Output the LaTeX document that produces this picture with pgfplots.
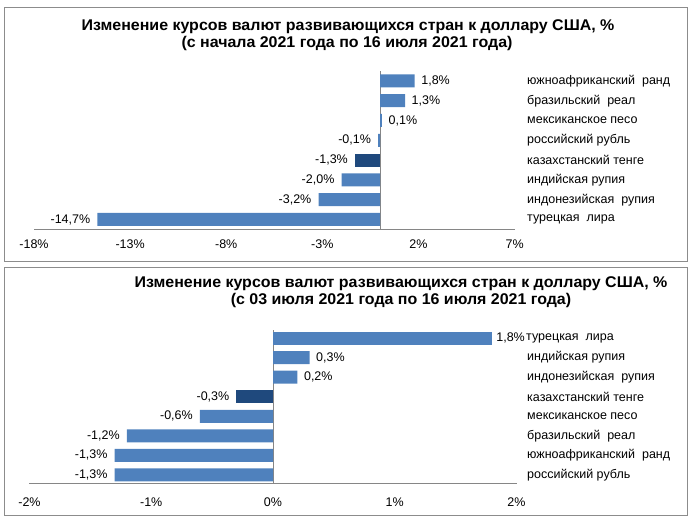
\documentclass[border=0pt]{standalone}
\usepackage{fontspec}
\setmainfont{Liberation Sans}
\newfontfamily\titlefont[FakeStretch=1.03]{Liberation Sans}
\usepackage{pgfplots}
\pgfplotsset{compat=1.18}
\definecolor{barblue}{HTML}{4F81BD}
\definecolor{bardark}{HTML}{1F497D}
\definecolor{axgray}{HTML}{868686}
\definecolor{framegray}{HTML}{8C8C8C}
\newcommand{\lblfont}{\fontsize{12.5}{14}\selectfont}
\newcommand{\ttlfont}{\titlefont\bfseries\fontsize{15.5}{18}\selectfont}
\pgfplotsset{
  mychart/.style={
    scale only axis,
    xbar, bar width=13pt, bar shift=0pt,
    enlargelimits=false,
    axis x line*=bottom, axis y line*=right,
    x axis line style={axgray, line width=0.8pt},
    y axis line style={draw=none},
    major tick length=0pt,
    ytick={0,...,7},
    yticklabel style={anchor=west, inner sep=0pt, font=\lblfont},
    xticklabel style={font=\lblfont},
    extra x ticks={0}, extra x tick labels={},
    extra x tick style={grid=major, major grid style={axgray, line width=0.8pt}},
    point meta=explicit symbolic,
    nodes near coords={\pgfplotspointmeta\%},
  },
  pos/.style={fill=barblue, draw=none,
    every node near coord/.style={font=\lblfont, inner xsep=#1, text=black, anchor=west}},
  pos/.default=6.5pt,
  neg/.style={fill=#1, draw=none,
    every node near coord/.style={font=\lblfont, inner xsep=7pt, text=black, anchor=east}},
}
\begin{document}
\begin{tikzpicture}[x=1pt,y=1pt]
\useasboundingbox (0,0) rectangle (690,521);
\draw[framegray, line width=0.9pt] (4,260) rectangle (687,514);
\draw[framegray, line width=0.9pt] (4,6) rectangle (687,254);
% titles
\node[anchor=base] at (348,490) {\ttlfont Изменение курсов валют развивающихся стран к доллару США, \%};
\node[anchor=base] at (347,473) {\ttlfont (с начала 2021 года по 16 июля 2021 года)};
\node[anchor=base] at (401,233) {\ttlfont Изменение курсов валют развивающихся стран к доллару США, \%};
\node[anchor=base] at (401,216) {\ttlfont (с 03 июля 2021 года по 16 июля 2021 года)};

\begin{axis}[mychart,
  at={(34pt,291.6pt)}, anchor=south west,
  width=480.6pt, height=158.4pt,
  xmin=-18, xmax=7, ymin=-0.5, ymax=7.5,
  xtick={-18,-13,-8,-3,2,7},
  xticklabels={-18\%,-13\%,-8\%,-3\%,2\%,7\%},
  xticklabel style={yshift=-7pt},
  yticklabel style={xshift=12.4pt},
  yticklabels={турецкая\ \ лира, индонезийская\ \ рупия, индийская рупия, казахстанский тенге, российский рубль, мексиканское песо, бразильский\ \ реал, южноафриканский\ \ ранд},
]
\addplot[neg=barblue] table[x=x, y=y, meta=lab] {
x y lab
-14.7 0 -14,7
-3.2 1 -3,2
-2.0 2 -2,0
-0.1 4 -0,1
};
\addplot[neg=bardark] table[x=x, y=y, meta=lab] {
x y lab
-1.3 3 -1,3
};
\addplot[pos] table[x=x, y=y, meta=lab] {
x y lab
0.1 5 0,1
1.3 6 1,3
1.8 7 1,8
};
\end{axis}

\begin{axis}[mychart,
  at={(29.5pt,37.8pt)}, anchor=south west,
  width=487pt, height=153.4pt,
  xmin=-2, xmax=2, ymin=-0.42, ymax=7.42,
  xtick={-2,-1,0,1,2},
  xticklabels={-2\%,-1\%,0\%,1\%,2\%},
  xticklabel style={yshift=-11pt},
  yticklabel style={xshift=10.5pt},
  yticklabels={российский рубль, южноафриканский\ \ ранд, бразильский\ \ реал, мексиканское песо, казахстанский тенге, индонезийская\ \ рупия, индийская рупия, \hspace*{-1pt}турецкая\ \ лира},
]
\addplot[neg=barblue] table[x=x, y=y, meta=lab] {
x y lab
-1.3 0 -1,3
-1.3 1 -1,3
-1.2 2 -1,2
-0.6 3 -0,6
};
\addplot[neg=bardark] table[x=x, y=y, meta=lab] {
x y lab
-0.3 4 -0,3
};
\addplot[pos] table[x=x, y=y, meta=lab] {
x y lab
0.2 5 0,2
0.3 6 0,3
};
\addplot[pos=4pt] table[x=x, y=y, meta=lab] {
x y lab
1.8 7 1,8
};
\end{axis}
\end{tikzpicture}
\end{document}
